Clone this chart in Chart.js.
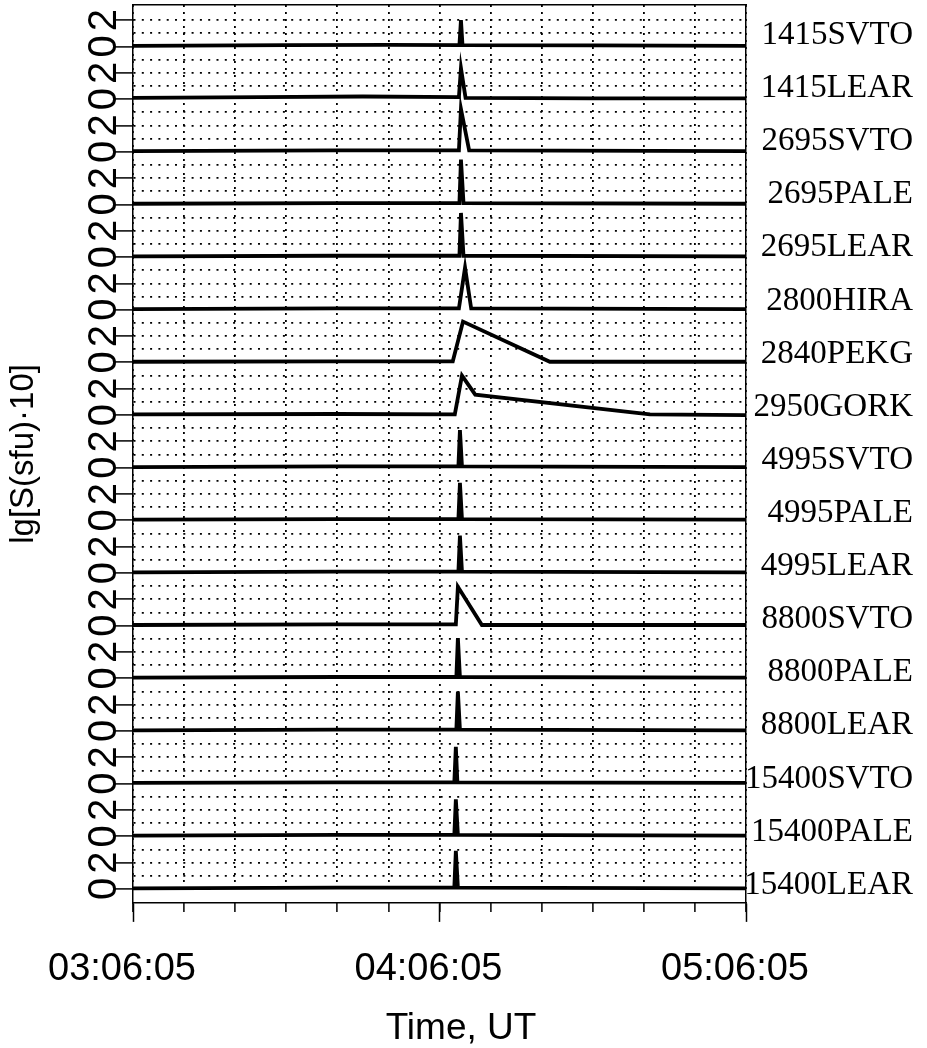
<!DOCTYPE html>
<html>
<head>
<meta charset="utf-8">
<script src="https://cdn.jsdelivr.net/npm/chart.js@4.4.0/dist/chart.umd.min.js"></script>
<style>
  html, body { margin: 0; padding: 0; background: #fff; }
</style>
</head>
<body>
<canvas id="burstChart" width="927" height="1048"></canvas>
<script>
// stations, top panel first
const stations = [
  "1415SVTO", "1415LEAR", "2695SVTO", "2695PALE", "2695LEAR", "2800HIRA",
  "2840PEKG", "2950GORK", "4995SVTO", "4995PALE", "4995LEAR", "8800SVTO",
  "8800PALE", "8800LEAR", "15400SVTO", "15400PALE", "15400LEAR"
];
const timeTicks = ["03:06:05", "04:06:05", "05:06:05"];

// [minutes after 03:06:05, lg value] for each station
const s1415SVTO  = [[0, 0.05], [30, 0.1], [50, 0.12], [63.9, 0.1], [64.2, 2.0], [64.5, 0.1], [90, 0.08], [120, 0.05]];
const s1415LEAR  = [[0, 0.1], [25, 0.15], [45, 0.2], [63.8, 0.15], [64.2, 2.35], [65.1, 0.1], [90, 0.05], [120, 0.05]];
const s2695SVTO  = [[0, 0.05], [40, 0.1], [63.8, 0.1], [64.2, 3.25], [65.8, 0.1], [120, 0.05]];
const s2695PALE  = [[0, 0.05], [40, 0.1], [63.9, 0.1], [64.2, 3.4], [64.7, 0.1], [120, 0.05]];
const s2695LEAR  = [[0, 0.05], [40, 0.1], [63.9, 0.1], [64.2, 3.35], [64.7, 0.1], [120, 0.05]];
const s2800HIRA  = [[0, 0.05], [40, 0.1], [63.8, 0.1], [65.0, 3.2], [66.2, 0.1], [120, 0.05]];
const s2840PEKG  = [[0, 0.05], [40, 0.08], [62.6, 0.08], [64.6, 3.1], [81.6, 0.05], [120, 0.05]];
const s2950GORK  = [[0, 0.05], [40, 0.08], [63.0, 0.05], [64.4, 3.0], [67.0, 1.55], [101.2, 0.05], [120, 0.0]];
const s4995SVTO  = [[0, 0.05], [40, 0.1], [63.7, 0.1], [64.0, 2.85], [64.4, 0.1], [120, 0.05]];
const s4995PALE  = [[0, 0.05], [40, 0.1], [63.7, 0.1], [64.0, 2.85], [64.4, 0.1], [120, 0.05]];
const s4995LEAR  = [[0, 0.05], [40, 0.1], [63.7, 0.1], [64.0, 2.85], [64.4, 0.1], [120, 0.05]];
const s8800SVTO  = [[0, 0.05], [40, 0.1], [63.2, 0.1], [63.6, 2.95], [68.3, 0.05], [120, 0.05]];
const s8800PALE  = [[0, 0.05], [40, 0.1], [63.3, 0.1], [63.6, 3.05], [64.0, 0.1], [120, 0.05]];
const s8800LEAR  = [[0, 0.05], [40, 0.1], [63.3, 0.1], [63.6, 3.0], [64.0, 0.1], [120, 0.05]];
const s15400SVTO = [[0, 0.05], [40, 0.1], [62.9, 0.1], [63.2, 2.8], [63.5, 0.1], [120, 0.05]];
const s15400PALE = [[0, 0.05], [40, 0.1], [62.9, 0.1], [63.2, 2.8], [63.6, 0.1], [120, 0.05]];
const s15400LEAR = [[0, 0.05], [40, 0.1], [62.9, 0.1], [63.2, 2.9], [63.6, 0.1], [120, 0.05]];

const curves = [
  s1415SVTO, s1415LEAR, s2695SVTO, s2695PALE, s2695LEAR, s2800HIRA,
  s2840PEKG, s2950GORK, s4995SVTO, s4995PALE, s4995LEAR, s8800SVTO,
  s8800PALE, s8800LEAR, s15400SVTO, s15400PALE, s15400LEAR
];

const PANEL = 4;               // y units per stacked panel
const nPanels = stations.length;
const yMin = -1.06;
const yMax = PANEL * (nPanels - 1) + 3.15;
const LABEL_LIFT = 0.85, LABEL_DRIFT = 0.035;

const sans = "'Liberation Sans', Arial, sans-serif";

const datasets = curves.map((pts, k) => {
  const base = PANEL * (nPanels - 1 - k);
  return {
    label: stations[k],
    data: pts.map(p => ({ x: p[0], y: p[1] + base })),
    borderColor: "#000",
    borderWidth: 3.8,
    pointRadius: 0,
    tension: 0,
    fill: false
  };
});

// vertical dots stop at the lowest baseline
function dotColor(c) {
  const area = c.chart.chartArea;
  if (!area) return "#000";
  const y0 = c.chart.scales.y.getPixelForValue(0);
  const f = Math.min(1, Math.max(0, (y0 - area.top) / (area.bottom - area.top)));
  const g = c.chart.ctx.createLinearGradient(0, area.top, 0, area.bottom);
  g.addColorStop(0, "#000");
  g.addColorStop(f, "#000");
  g.addColorStop(f, "rgba(0,0,0,0)");
  g.addColorStop(1, "rgba(0,0,0,0)");
  return g;
}

const ctx = document.getElementById("burstChart").getContext("2d");

new Chart(ctx, {
  type: "line",
  data: { datasets },
  options: {
    responsive: false,
    animation: false,
    devicePixelRatio: 1,
    layout: { padding: { left: 9, right: 14, top: 5, bottom: 0 } },
    plugins: {
      legend: { display: false },
      tooltip: { enabled: false },
      title: {
        display: true,
        position: "bottom",
        text: "Time, UT",
        color: "#000",
        font: { family: sans, size: 37, weight: "normal", lineHeight: 1.03 },
        padding: { top: 17, bottom: 0 }
      }
    },
    scales: {
      x: {
        type: "linear",
        position: "bottom",
        min: 0,
        max: 120,
        afterBuildTicks: s => { s.ticks = timeTicks.map((_, i) => ({ value: i * 60 })); },
        afterFit: s => { s.height = 90; s.paddingLeft = 0; s.paddingRight = 0; },
        ticks: {
          autoSkip: false,
          maxRotation: 0,
          padding: 25,
          labelOffset: -11,
          color: "#000",
          font: { family: sans, size: 38 },
          callback: v => timeTicks[Math.round(v / 60)]
        },
        grid: { drawOnChartArea: false, tickLength: 19, tickWidth: 1.5, tickColor: "#000" },
        border: { display: true, color: "#000", width: 1.5 }
      },
      xMinor: {
        type: "linear",
        position: { y: yMin },
        min: 0,
        max: 120,
        ticks: { display: false, stepSize: 10 },
        grid: { drawOnChartArea: true, color: dotColor, lineWidth: 1.8, tickLength: 9, tickWidth: 1.5, tickColor: "#000" },
        border: { display: false, dash: [2, 5] }
      },
      xTop: {
        type: "linear",
        position: "top",
        min: 0,
        max: 120,
        ticks: { display: false },
        grid: { display: false, drawTicks: false },
        border: { display: true, color: "#000", width: 1.5 },
        afterFit: s => { s.height = 0; }
      },
      y: {
        type: "linear",
        position: "left",
        min: yMin,
        max: yMax,
        afterBuildTicks: s => {
          const t = [];
          for (let v = 0; v <= PANEL * (nPanels - 1) + 2; v++) t.push({ value: v });
          s.ticks = t;
        },
        afterFit: s => { s.width = 124; s.paddingTop = 0; s.paddingBottom = 0; },
        ticks: {
          autoSkip: false,
          minRotation: 90,
          maxRotation: 90,
          crossAlign: "center",
          padding: -1,
          color: "#000",
          font: { family: sans, size: 40 },
          callback: v => (v % 4 === 0 ? "0" : v % 4 === 2 ? "2" : "")
        },
        grid: {
          color: c => (c.tick && c.tick.value % 4 !== 0 ? "#000" : "rgba(0,0,0,0)"),
          lineWidth: 1.8,
          tickLength: 18,
          tickWidth: 1.5,
          tickColor: c => (c.tick && c.tick.value % 2 === 0 ? "#000" : "rgba(0,0,0,0)")
        },
        border: { display: true, color: "#000", width: 1.5, dash: [2, 6.3] },
        title: {
          display: true,
          text: "lg[S(sfu)\u00b710]",
          color: "#000",
          font: { family: sans, size: 33 },
          padding: { top: -5, bottom: 0 }
        }
      },
      yR: {
        type: "linear",
        position: "right",
        min: yMin,
        max: yMax,
        afterBuildTicks: s => {
          const t = [];
          for (let j = 0; j < nPanels; j++) {
            const k = nPanels - 1 - j;
            t.push({ value: PANEL * j + LABEL_LIFT - LABEL_DRIFT * k });
          }
          s.ticks = t;
        },
        afterFit: s => { s.width = 167; s.paddingTop = 0; s.paddingBottom = 0; },
        ticks: {
          autoSkip: false,
          crossAlign: "far",
          padding: 0,
          color: "#000",
          font: { family: "'Liberation Serif', 'Times New Roman', serif", size: 33 },
          callback: (v, i) => stations[nPanels - 1 - i]
        },
        grid: { display: false, drawTicks: false, tickLength: 0 },
        border: { display: true, color: "#000", width: 1.5 }
      }
    }
  }
});
</script>
</body>
</html>
